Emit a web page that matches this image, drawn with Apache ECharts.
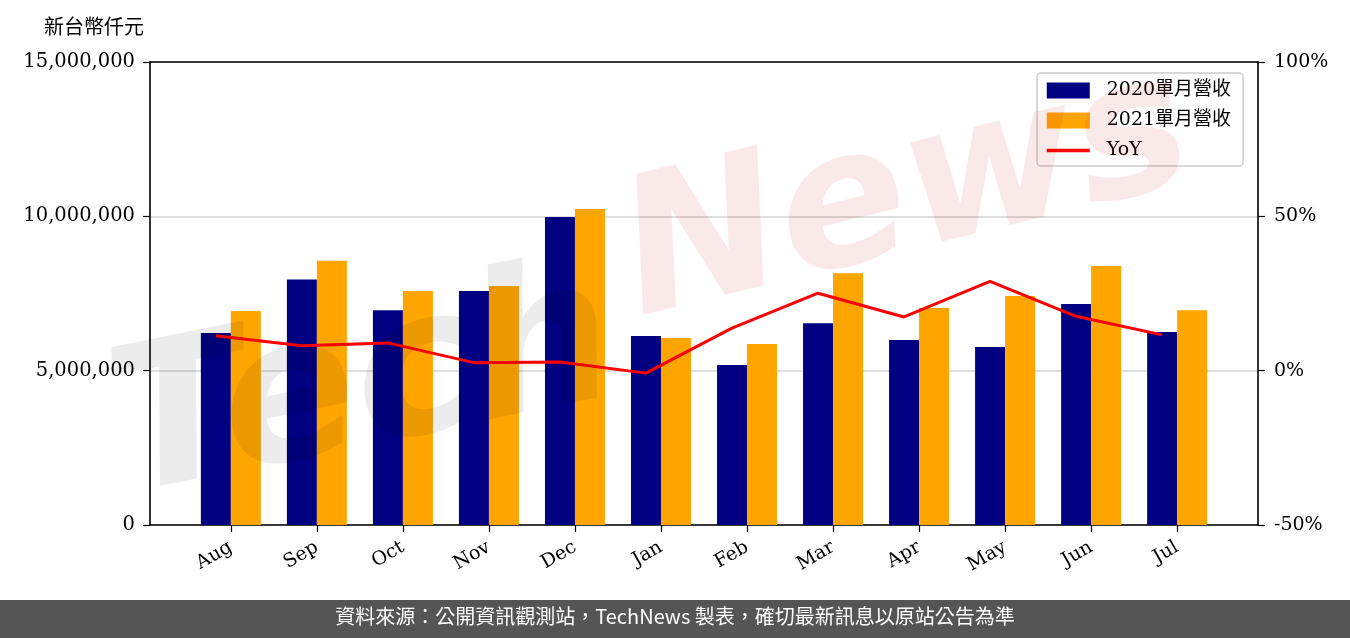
<!DOCTYPE html>
<html>
<head>
<meta charset="utf-8">
<script src="https://cdn.jsdelivr.net/npm/echarts@6/dist/echarts.min.js"></script>
<style>
html, body { margin: 0; padding: 0; background: #fff; }
#main { width: 1350px; height: 638px; }
</style>
</head>
<body>
<div id="main"></div>
<script>
// 月份 (2020/08 ~ 2021/07)
const months = ['Aug', 'Sep', 'Oct', 'Nov', 'Dec', 'Jan', 'Feb', 'Mar', 'Apr', 'May', 'Jun', 'Jul'];
// 單月營收 (新台幣仟元)
const rev2020 = [6220000, 7950000, 6960000, 7580000, 9980000, 6120000, 5180000, 6540000, 5990000, 5770000, 7160000, 6250000];
const rev2021 = [6930000, 8560000, 7580000, 7740000, 10240000, 6060000, 5860000, 8160000, 7030000, 7420000, 8390000, 6960000];
// 年增率 %
const yoy = [11.3, 8.1, 9.0, 2.6, 2.8, -0.8, 13.8, 25.1, 17.4, 28.9, 17.6, 11.6];
const tickIdx = months.map((m, i) => i);

const serif = "'DejaVu Serif', 'Noto Sans CJK TC', serif";
const sans = "'Noto Sans CJK TC', 'Noto Sans', sans-serif";

let myChart = echarts.init(document.getElementById('main'));

let option = {
    animation: false,
    backgroundColor: '#fff',
    grid: {
        left: 150, right: 92, top: 62, bottom: 113,
        outerBoundsMode: 'none'
    },
    legend: {
        orient: 'vertical',
        left: 1037, top: 73,
        backgroundColor: '#fff',
        borderColor: '#cccccc',
        borderWidth: 1.5,
        borderRadius: 4,
        padding: [8, 12, 6, 8],
        itemWidth: 43,
        itemHeight: 16,
        itemGap: 11,
        textStyle: { fontFamily: serif, fontSize: 19, color: '#000', padding: [0, 0, 0, 12] },
        data: [
            { name: '2020單月營收', icon: 'rect' },
            { name: '2021單月營收', icon: 'rect' },
            { name: 'YoY', itemStyle: { opacity: 0 }, lineStyle: { width: 3.5, color: '#ff0000' } }
        ]
    },
    graphic: [
        // 浮水印
        {
            type: 'text', z: 100, silent: true,
            x: 135, y: 540, rotation: 0.2,
            style: {
                text: 'Tech', fill: 'rgba(0,0,0,0.075)',
                font: 'italic bold 200px "DejaVu Sans"',
                textVerticalAlign: 'bottom'
            }
        },
        {
            type: 'text', z: 100, silent: true,
            x: 650, y: 360, rotation: 0.24,
            style: {
                text: 'News', fill: 'rgba(200,0,0,0.085)',
                font: 'italic bold 190px "DejaVu Sans"',
                textVerticalAlign: 'bottom'
            }
        },
        // 軸標題
        {
            type: 'text', left: 44, top: 16,
            style: { text: '新台幣仟元', font: '20px ' + sans, fill: '#000' }
        },
        // 底部資料來源
        {
            type: 'rect', left: 0, top: 600, z: 50,
            shape: { width: 1350, height: 38 },
            style: { fill: '#555555' }
        },
        {
            type: 'text', left: 'center', top: 606, z: 51,
            style: {
                text: '資料來源：公開資訊觀測站，TechNews 製表，確切最新訊息以原站公告為準',
                font: '20px ' + sans, fill: '#ffffff'
            }
        }
    ],
    xAxis: [
        {
            type: 'value',
            min: -0.94,
            max: 11.94,
            position: 'bottom',
            axisLine: { onZero: false, lineStyle: { color: '#000', width: 1.6 } },
            axisTick: {
                customValues: tickIdx,
                length: 7,
                lineStyle: { color: '#000', width: 1.2 }
            },
            axisLabel: {
                customValues: tickIdx,
                rotate: 30,
                margin: 21,
                fontFamily: serif,
                fontSize: 19,
                color: '#000',
                formatter: v => months[Math.round(v)]
            },
            splitLine: { show: false }
        },
        {
            type: 'value',
            min: -0.94,
            max: 11.94,
            position: 'top',
            axisLine: { show: true, onZero: false, lineStyle: { color: '#000', width: 1.6 } },
            axisTick: { show: false },
            axisLabel: { show: false },
            splitLine: { show: false }
        }
    ],
    yAxis: [
        {
            type: 'value',
            min: 0,
            max: 15000000,
            interval: 5000000,
            position: 'left',
            axisLine: { show: true, onZero: false, lineStyle: { color: '#000', width: 1.6 } },
            axisTick: { show: true, length: 7, lineStyle: { color: '#000', width: 1.2 } },
            axisLabel: {
                margin: 15,
                fontFamily: serif,
                fontSize: 19.5,
                color: '#000',
                formatter: v => v.toLocaleString('en-US')
            },
            splitLine: { show: true, lineStyle: { color: '#d3d3d3', width: 1.5 } }
        },
        {
            type: 'value',
            min: -50,
            max: 100,
            interval: 50,
            position: 'right',
            axisLine: { show: true, onZero: false, lineStyle: { color: '#000', width: 1.6 } },
            axisTick: { show: true, length: 7, lineStyle: { color: '#000', width: 1.2 } },
            axisLabel: {
                margin: 16,
                fontFamily: serif,
                fontSize: 19,
                color: '#000',
                formatter: '{value}%'
            },
            splitLine: { show: false }
        }
    ],
    series: [
        {
            name: '2020單月營收',
            type: 'bar',
            barWidth: 30,
            barGap: '0%',
            itemStyle: { color: '#000080' },
            data: rev2020.map((v, i) => [i, v])
        },
        {
            name: '2021單月營收',
            type: 'bar',
            barWidth: 30,
            barGap: '0%',
            itemStyle: { color: '#FFA500' },
            data: rev2021.map((v, i) => [i, v])
        },
        {
            name: 'YoY',
            type: 'line',
            yAxisIndex: 1,
            symbol: 'none',
            z: 5,
            lineStyle: { color: '#ff0000', width: 3 },
            itemStyle: { color: '#ff0000' },
            // 折線點落在 2020 長條中心
            data: yoy.map((v, i) => [i - 0.175, v])
        }
    ]
};

myChart.setOption(option);
</script>
</body>
</html>
